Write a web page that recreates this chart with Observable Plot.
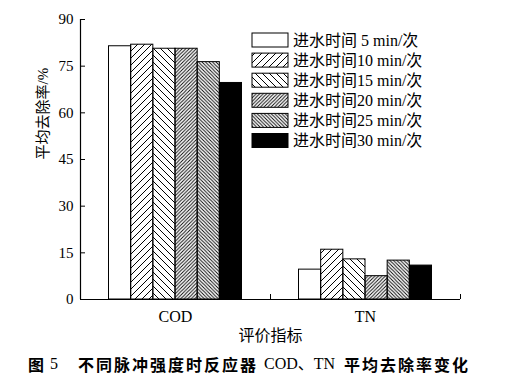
<!DOCTYPE html>
<html>
<head>
<meta charset="utf-8">
<script src="https://cdn.jsdelivr.net/npm/d3@7"></script>
<script src="https://cdn.jsdelivr.net/npm/@observablehq/plot@0.6"></script>
<style>
  body { margin: 0; background: #fff; }
  #wrap { width: 512px; position: relative; }
  #cap { position: relative; height: 29px; width: 512px; font-family: "Noto Sans CJK SC", sans-serif; font-size: 16px; color: #000; }
  #cap span { position: absolute; top: 3px; line-height: 22px; white-space: pre; }
</style>
</head>
<body>
<svg width="0" height="0" style="position:absolute">
  <defs>
    <pattern id="p10" patternUnits="userSpaceOnUse" width="7" height="7">
      <path d="M0,7 L7,0 M-1,1 L1,-1 M6,8 L8,6" stroke="#000" stroke-width="1" />
    </pattern>
    <pattern id="p15" patternUnits="userSpaceOnUse" width="7" height="7">
      <path d="M0,0 L7,7 M-1,6 L1,8 M6,-1 L8,1" stroke="#000" stroke-width="1" />
    </pattern>
    <pattern id="p20" patternUnits="userSpaceOnUse" width="3.5" height="3.5">
      <path d="M0,3.5 L3.5,0 M-1,1 L1,-1 M2.5,4.5 L4.5,2.5" stroke="#000" stroke-width="0.9" />
    </pattern>
    <pattern id="p25" patternUnits="userSpaceOnUse" width="3.5" height="3.5">
      <path d="M0,0 L3.5,3.5 M-1,2.5 L1,4.5 M2.5,-1 L4.5,1" stroke="#000" stroke-width="0.9" />
    </pattern>
  </defs>
</svg>
<div id="wrap"></div>
<div id="cap">
  <span style="left:28px;font-weight:bold;">图</span>
  <span style="left:50px;font-family:'Liberation Serif',serif;">5</span>
  <span style="left:78px;font-weight:bold;letter-spacing:2px;">不同脉冲强度时反应器</span>
  <span style="left:264px;font-family:'Liberation Serif','Noto Sans CJK SC',serif;">COD、TN</span>
  <span style="left:344px;font-weight:bold;letter-spacing:2px;">平均去除率变化</span>
</div>
<script>
const categories = ["COD", "TN"];
const seriesLabels = [
  "进水时间 5 min/次",
  "进水时间10 min/次",
  "进水时间15 min/次",
  "进水时间20 min/次",
  "进水时间25 min/次",
  "进水时间30 min/次"
];
const codValues = [81.4, 81.9, 80.6, 80.6, 76.3, 69.6];
const tnValues = [9.6, 16.0, 12.9, 7.5, 12.5, 10.9];
const yTicks = [0, 15, 30, 45, 60, 75, 90];
const yLabel = "平均去除率/%";
const xLabel = "评价指标";

const fills = ["#fff", "url(#p10)", "url(#p15)", "url(#p20)", "url(#p25)", "#000"];

const rows = [];
[codValues, tnValues].forEach((vals, ci) => {
  vals.forEach((v, si) => rows.push({category: categories[ci], ci, series: seriesLabels[si], si, value: v}));
});

const groupFrac = 0.7;
const bw = groupFrac / seriesLabels.length;
const off = (1 - groupFrac) / 2;

const serif = "'Liberation Serif', 'Noto Sans CJK SC', serif";

function legendMark() {
  const g = d3.create("svg:g").attr("text-anchor", "start");
  seriesLabels.forEach((s, i) => {
    const y = 33 + i * 20.1;
    g.append("rect").attr("x", 252).attr("y", y).attr("width", 36).attr("height", 14)
      .attr("fill", fills[i]).attr("stroke", "#000").attr("stroke-width", 1);
    g.append("text").attr("x", 293).attr("y", y + 7).attr("dy", "0.36em")
      .attr("text-anchor", "start")
      .attr("font-size", 16).attr("font-family", serif).attr("fill", "#000").text(s);
  });
  return g.node();
}

const chart = Plot.plot({
  width: 512,
  height: 350,
  marginLeft: 80,
  marginRight: 52,
  marginTop: 19,
  marginBottom: 51,
  style: {fontFamily: serif, fontSize: "15px", color: "#000", background: "#fff"},
  x: {type: "linear", domain: [0, 2], axis: null},
  y: {domain: [0, 90], axis: null},
  color: {type: "identity"},
  marks: [
    Plot.rectY(rows, {
      x1: d => d.ci + off + d.si * bw,
      x2: d => d.ci + off + (d.si + 1) * bw,
      y: "value",
      fill: d => fills[d.si],
      stroke: "#000",
      strokeWidth: 1
    }),
    Plot.axisY({ticks: yTicks, tickSize: -5, tickPadding: 12, tickFormat: d => String(d), fontSize: 15, stroke: "#000", label: null}),
    Plot.axisX({ticks: [1, 2], tickSize: -5, tickFormat: () => "", stroke: "#000", label: null}),
    Plot.axisX({ticks: [0.5, 1.5], tickSize: 0, tickPadding: 11, tickFormat: d => categories[Math.floor(d)], fontSize: 16, label: null}),
    Plot.ruleX([0], {stroke: "#000", strokeWidth: 1.2}),
    Plot.ruleY([0], {stroke: "#000", strokeWidth: 1.2}),
    Plot.text([yLabel], {frameAnchor: "left", rotate: -90, dx: -37, fontSize: 15, fill: "#000"}),
    Plot.text([xLabel], {frameAnchor: "bottom", dy: 41, fontSize: 16, fill: "#000", fontFamily: "'Noto Sans CJK SC', sans-serif"}),
    legendMark
  ]
});
document.getElementById("wrap").appendChild(chart);
</script>
</body>
</html>
